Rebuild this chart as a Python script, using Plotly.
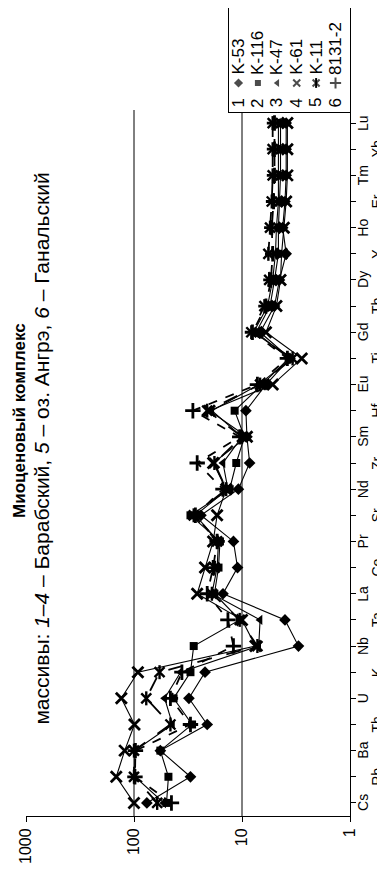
import plotly.graph_objects as go

# ---------------- data ----------------
elements = ["Cs", "Rb", "Ba", "Th", "U", "K", "Nb", "Ta", "La", "Ce", "Pr", "Sr", "Nd",
            "Zr", "Sm", "Hf", "Eu", "Ti", "Gd", "Tb", "Dy", "Y", "Ho", "Er", "Tm", "Yb", "Lu"]

k53 = [76, 30, 57, 21, 31, 22, 3.0, 4.0, 15, 11, 12, 24, 10.8, 8.5, 9.0, 9.2, 6.0, 3.6,
       6.8, 5.0, 4.5, 3.9, 4.2, 4.0, 3.9, 3.9, 3.9]
k116 = [50, 48, 57, 29, 43, 30, 28, 10.5, 18, 16.5, 16, 30, 13, 11.3, 9.5, 11.7, 6.5, 3.7,
        7.4, 5.5, 5.0, 4.6, 4.6, 4.5, 4.4, 4.4, 4.4]
k47 = [53, 98, 98, 44, 52, 37, 7.0, 6.8, 19, 17, 16.5, 27, 13.5, 15, 10, 19, 7.0, 3.5,
       7.8, 5.8, 5.2, 4.9, 4.8, 4.6, 4.6, 4.6, 4.6]
k61 = [100, 146, 122, 99, 131, 92, 7.5, 10, 26, 22, 18.5, 17, 14, 18.5, 9.0, 20, 5.2, 2.8,
       6.0, 4.8, 4.4, 4.3, 4.1, 3.9, 3.8, 3.8, 3.8]
k11 = [61, 100, 100, 46, 77, 58, 7.2, 10.5, 19, 18, 17, 28, 14, 18, 10, 21, 6.8, 3.4,
       8.2, 6.2, 5.6, 5.7, 5.5, 5.3, 5.2, 5.2, 5.2]
s8131 = [45, 98, 97, 30, 46, 36, 12, 13.5, 21, 18.5, 17, 27, 15, 26, 10.5, 28.5, 7.2, 3.8,
         8.0, 6.0, 5.4, 5.2, 5.3, 5.1, 5.0, 5.0, 5.0]

sample_names = ["K-53", "K-116", "K-47", "K-61", "K-11", "8131-2"]
sample_numbers = ["1", "2", "3", "4", "5", "6"]
series_values = [k53, k116, k47, k61, k11, s8131]

value_tickvals = [1000, 100, 10, 1]
value_ticktext = ["1000", "100", "10", "1"]
grid_values = [100, 10]

title_text = "<b>Миоценовый комплекс</b>"
subtitle_text = ("массивы: <i>1–4</i> – Барабский, <i>5</i> – оз. Ангрэ, "
                 "<i>6</i> – Ганальский")

# ---------------- styles ----------------
FONT = "Liberation Sans, Arial, sans-serif"
symbols = ["diamond", "square", "triangle-left", "x-thin-open", "x-thin-open", "cross-thin-open"]
sizes = [9, 8, 9, 11, 10, 11]
leg_sizes = [7, 6, 7, 7, 7, 8]
mline = [0, 0, 0, 2.8, 2.4, 2.8]
dashes = ["solid", "solid", "solid", "solid", "longdash", "dash"]
widths = [1.1, 1.1, 1.1, 1.1, 1.8, 1.8]

fig = go.Figure()

for i, vals in enumerate(series_values):
    fig.add_trace(go.Scatter(
        x=vals, y=elements, mode="lines+markers", name=sample_names[i],
        line=dict(color="black", width=widths[i], dash=dashes[i]),
        marker=dict(symbol=symbols[i], size=sizes[i], color="black",
                    line=dict(color="black", width=mline[i])),
        showlegend=False, xaxis="x", yaxis="y"))
    if i == 4:  # asterisk: add vertical bar
        fig.add_trace(go.Scatter(
            x=vals, y=elements, mode="markers",
            marker=dict(symbol="line-ns-open", size=sizes[i], color="black",
                        line=dict(color="black", width=2.4)),
            showlegend=False, hoverinfo="skip"))

# legend glyphs on a small auxiliary axis pair
leg_idx = list(range(len(sample_names)))
fig.add_trace(go.Scatter(
    x=leg_idx, y=[0] * len(leg_idx), mode="markers", xaxis="x2", yaxis="y2",
    marker=dict(symbol=symbols, size=leg_sizes, color="black",
                line=dict(color="black", width=[0, 0, 0, 2, 2, 2])),
    showlegend=False, hoverinfo="skip"))
fig.add_trace(go.Scatter(
    x=[leg_idx[4]], y=[0], mode="markers", xaxis="x2", yaxis="y2",
    marker=dict(symbol="line-ns-open", size=leg_sizes[4], color="black",
                line=dict(color="black", width=2)),
    showlegend=False, hoverinfo="skip"))

annotations = []
# legend texts
for i in leg_idx:
    annotations.append(dict(x=i, y=0, xref="x2", yref="y2", text=sample_numbers[i],
                            textangle=-90, showarrow=False, xanchor="center",
                            yanchor="middle", yshift=-20,
                            font=dict(size=17, color="black", family=FONT)))
    annotations.append(dict(x=i, y=0, xref="x2", yref="y2", text=sample_names[i],
                            textangle=-90, showarrow=False, xanchor="center",
                            yanchor="bottom", yshift=6,
                            font=dict(size=17, color="black", family=FONT)))

# element labels, alternating two columns
for j, el in enumerate(elements):
    annotations.append(dict(x=1, y=el, xref="paper", yref="y", text=el, textangle=-90,
                            showarrow=False, xanchor="center", yanchor="middle",
                            xshift=13 if j % 2 == 0 else 27, borderpad=0,
                            font=dict(size=14, color="black", family=FONT)))

# titles
annotations.append(dict(x=-0.022, y=0.49, xref="paper", yref="paper", text=title_text,
                        textangle=-90, showarrow=False, xanchor="center", yanchor="middle",
                        borderpad=0, font=dict(size=17, color="black", family=FONT)))
annotations.append(dict(x=0.047, y=0.455, xref="paper", yref="paper", text=subtitle_text,
                        textangle=-90, showarrow=False, xanchor="center", yanchor="middle",
                        font=dict(size=21, color="black", family=FONT)))

shapes = [dict(type="line", xref="x", yref="y domain", x0=v, x1=v, y0=0, y1=1,
               line=dict(color="black", width=1), layer="below") for v in grid_values]

fig.update_layout(
    width=385, height=872,
    margin=dict(l=18, r=43, t=0, b=64),
    paper_bgcolor="white", plot_bgcolor="white",
    showlegend=False,
    xaxis=dict(type="log", range=[3, 0], tickvals=value_tickvals, ticktext=value_ticktext,
               tickangle=-90, ticks="outside", ticklen=5, tickcolor="black",
               showline=True, linecolor="black", linewidth=1, showgrid=False,
               zeroline=False, tickfont=dict(size=16, color="black", family=FONT),
               anchor="y", domain=[0, 1]),
    yaxis=dict(type="category", categoryorder="array", categoryarray=elements,
               range=[-0.5, len(elements) - 0.5], side="right", showline=True,
               linecolor="black", linewidth=1, ticks="outside", ticklen=5,
               tickcolor="black", showticklabels=False, showgrid=False, zeroline=False,
               domain=[0, 706 / 808], anchor="x"),
    xaxis2=dict(domain=[(221 - 18) / 324, 1], range=[-0.49, 5.747], anchor="y2",
                showline=True, mirror=True, linecolor="black", linewidth=1,
                showticklabels=False, ticks="", showgrid=False, zeroline=False),
    yaxis2=dict(domain=[(808 - 104) / 808, 1], range=[-0.279, 0.721], anchor="x2",
                showline=True, mirror=True, linecolor="black", linewidth=1,
                showticklabels=False, ticks="", showgrid=False, zeroline=False),
    annotations=annotations,
    shapes=shapes,
    font=dict(family=FONT, color="black"),
)

fig.write_html("out.html")
